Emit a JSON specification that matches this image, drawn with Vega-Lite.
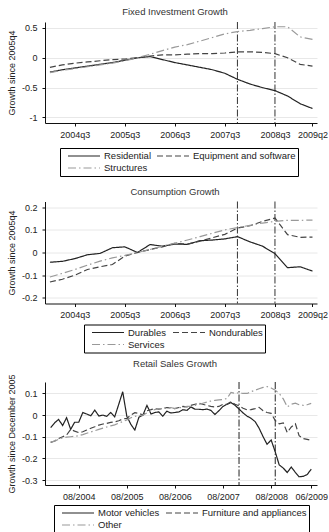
{
  "$schema": "https://vega.github.io/schema/vega-lite/v6.json",
  "background": "white",
  "autosize": {"type": "pad"},
  "padding": {"left": 7, "top": 7, "right": 0, "bottom": 0},
  "bounds": "flush",
  "spacing": 78.5,
  "config": {
    "font": "Liberation Sans",
    "view": {"stroke": null},
    "axis": {"labelFont": "Liberation Sans", "labelFontSize": 9, "labelColor": "#222", "titleFont": "Liberation Sans", "titleFontSize": 9, "titleFontWeight": "normal", "titleColor": "#222", "domainColor": "#111", "tickColor": "#111", "tickSize": 3, "gridColor": "#e8e8e8", "labelFlush": false, "labelOverlap": false, "labelBound": false},
    "axisX": {"grid": false, "labelPadding": 4},
    "axisY": {"grid": true, "labelPadding": 5, "titlePadding": 5},
    "title": {"font": "Liberation Sans", "fontSize": 9.5, "fontWeight": "normal", "color": "#333", "offset": 5, "dx": -6},
    "legend": {"orient": "none", "direction": "horizontal", "columns": 2, "strokeColor": "#000", "padding": 2, "fillColor": "white", "symbolType": "stroke", "symbolSize": 1024, "symbolStrokeWidth": 1.2, "symbolOffset": 5, "clipHeight": 12, "labelFont": "Liberation Sans", "labelFontSize": 9.5, "labelColor": "#222", "labelOffset": 3, "rowPadding": 0, "columnPadding": 0, "labelLimit": 300, "cornerRadius": 0}
  },
  "resolve": {"scale": {"x": "independent", "y": "independent", "color": "independent", "strokeDash": "independent"}, "legend": {"color": "independent", "strokeDash": "independent"}},
  "vconcat": [
    {
      "title": "Fixed Investment Growth",
      "width": 272, "height": 101,
      "layer": [
        {
          "data": {"values": [{"date": "2007/10/01"}, {"date": "2008/07/01"}]},
          "mark": {"type": "rule", "color": "#333", "strokeWidth": 1, "strokeDash": [7, 2, 1.5, 2]},
          "encoding": {"x": {"field": "date", "type": "temporal"}}
        },
        {
          "data": {"values": [
            {"date": "2004/01/01", "series": "Residential", "value": -0.24},
            {"date": "2004/04/01", "series": "Residential", "value": -0.20},
            {"date": "2004/07/01", "series": "Residential", "value": -0.17},
            {"date": "2004/10/01", "series": "Residential", "value": -0.14},
            {"date": "2005/01/01", "series": "Residential", "value": -0.11},
            {"date": "2005/04/01", "series": "Residential", "value": -0.08},
            {"date": "2005/07/01", "series": "Residential", "value": -0.04},
            {"date": "2005/10/01", "series": "Residential", "value": 0.00},
            {"date": "2006/01/01", "series": "Residential", "value": 0.02},
            {"date": "2006/04/01", "series": "Residential", "value": -0.03},
            {"date": "2006/07/01", "series": "Residential", "value": -0.08},
            {"date": "2006/10/01", "series": "Residential", "value": -0.12},
            {"date": "2007/01/01", "series": "Residential", "value": -0.16},
            {"date": "2007/04/01", "series": "Residential", "value": -0.20},
            {"date": "2007/07/01", "series": "Residential", "value": -0.26},
            {"date": "2007/10/01", "series": "Residential", "value": -0.36},
            {"date": "2008/01/01", "series": "Residential", "value": -0.44},
            {"date": "2008/04/01", "series": "Residential", "value": -0.50},
            {"date": "2008/07/01", "series": "Residential", "value": -0.55},
            {"date": "2008/10/01", "series": "Residential", "value": -0.64},
            {"date": "2009/01/01", "series": "Residential", "value": -0.77},
            {"date": "2009/04/01", "series": "Residential", "value": -0.85},
            {"date": "2004/01/01", "series": "Equipment and software", "value": -0.16},
            {"date": "2004/04/01", "series": "Equipment and software", "value": -0.12},
            {"date": "2004/07/01", "series": "Equipment and software", "value": -0.09},
            {"date": "2004/10/01", "series": "Equipment and software", "value": -0.07},
            {"date": "2005/01/01", "series": "Equipment and software", "value": -0.05},
            {"date": "2005/04/01", "series": "Equipment and software", "value": -0.03},
            {"date": "2005/07/01", "series": "Equipment and software", "value": -0.02},
            {"date": "2005/10/01", "series": "Equipment and software", "value": 0.00},
            {"date": "2006/01/01", "series": "Equipment and software", "value": 0.03},
            {"date": "2006/04/01", "series": "Equipment and software", "value": 0.05},
            {"date": "2006/07/01", "series": "Equipment and software", "value": 0.05},
            {"date": "2006/10/01", "series": "Equipment and software", "value": 0.06},
            {"date": "2007/01/01", "series": "Equipment and software", "value": 0.07},
            {"date": "2007/04/01", "series": "Equipment and software", "value": 0.07},
            {"date": "2007/07/01", "series": "Equipment and software", "value": 0.08},
            {"date": "2007/10/01", "series": "Equipment and software", "value": 0.10},
            {"date": "2008/01/01", "series": "Equipment and software", "value": 0.10},
            {"date": "2008/04/01", "series": "Equipment and software", "value": 0.09},
            {"date": "2008/07/01", "series": "Equipment and software", "value": 0.07},
            {"date": "2008/10/01", "series": "Equipment and software", "value": 0.00},
            {"date": "2009/01/01", "series": "Equipment and software", "value": -0.11},
            {"date": "2009/04/01", "series": "Equipment and software", "value": -0.14},
            {"date": "2004/01/01", "series": "Structures", "value": -0.25},
            {"date": "2004/04/01", "series": "Structures", "value": -0.21},
            {"date": "2004/07/01", "series": "Structures", "value": -0.18},
            {"date": "2004/10/01", "series": "Structures", "value": -0.15},
            {"date": "2005/01/01", "series": "Structures", "value": -0.12},
            {"date": "2005/04/01", "series": "Structures", "value": -0.09},
            {"date": "2005/07/01", "series": "Structures", "value": -0.05},
            {"date": "2005/10/01", "series": "Structures", "value": 0.00},
            {"date": "2006/01/01", "series": "Structures", "value": 0.06},
            {"date": "2006/04/01", "series": "Structures", "value": 0.12},
            {"date": "2006/07/01", "series": "Structures", "value": 0.18},
            {"date": "2006/10/01", "series": "Structures", "value": 0.22},
            {"date": "2007/01/01", "series": "Structures", "value": 0.28},
            {"date": "2007/04/01", "series": "Structures", "value": 0.34},
            {"date": "2007/07/01", "series": "Structures", "value": 0.40},
            {"date": "2007/10/01", "series": "Structures", "value": 0.44},
            {"date": "2008/01/01", "series": "Structures", "value": 0.46},
            {"date": "2008/04/01", "series": "Structures", "value": 0.49},
            {"date": "2008/07/01", "series": "Structures", "value": 0.52},
            {"date": "2008/10/01", "series": "Structures", "value": 0.52},
            {"date": "2009/01/01", "series": "Structures", "value": 0.35},
            {"date": "2009/04/01", "series": "Structures", "value": 0.31}
          ]},
          "mark": {"type": "line", "strokeWidth": 1.2},
          "encoding": {
            "x": {"field": "date", "type": "temporal", "title": null,
                  "scale": {"domain": [{"year": 2003, "month": 11, "date": 26}, {"year": 2009, "month": 5, "date": 4}], "nice": false},
                  "axis": {"format": "%Yq%q", "values": [{"year": 2004, "month": 7, "date": 1}, {"year": 2005, "month": 7, "date": 1}, {"year": 2006, "month": 7, "date": 1}, {"year": 2007, "month": 7, "date": 1}, {"year": 2008, "month": 7, "date": 1}, {"year": 2009, "month": 4, "date": 1}]}},
            "y": {"field": "value", "type": "quantitative", "title": "Growth since 2005q4",
                  "scale": {"domain": [-1.093, 0.6], "nice": false, "zero": false},
                  "axis": {"values": [-1, -0.5, 0, 0.5], "labelExpr": "replace(format(datum.value, '~g'), '\u2212', '-')"}},
            "color": {"field": "series", "type": "nominal",
                      "scale": {"domain": ["Residential", "Equipment and software", "Structures"], "range": ["#222222", "#444444", "#999999"]},
                      "legend": {"title": null, "legendX": 15, "legendY": 126}},
            "strokeDash": {"field": "series", "type": "nominal",
                      "scale": {"domain": ["Residential", "Equipment and software", "Structures"], "range": [[1, 0], [6, 3], [8, 3, 1.5, 3]]},
                      "legend": {"title": null, "legendX": 15, "legendY": 126}}
          }
        }
      ]
    },
    {
      "title": "Consumption Growth",
      "width": 272, "height": 102,
      "layer": [
        {
          "data": {"values": [{"date": "2007/10/01"}, {"date": "2008/07/01"}]},
          "mark": {"type": "rule", "color": "#333", "strokeWidth": 1, "strokeDash": [7, 2, 1.5, 2]},
          "encoding": {"x": {"field": "date", "type": "temporal"}}
        },
        {
          "data": {"values": [
            {"date": "2004/01/01", "series": "Durables", "value": -0.043},
            {"date": "2004/04/01", "series": "Durables", "value": -0.039},
            {"date": "2004/07/01", "series": "Durables", "value": -0.027},
            {"date": "2004/10/01", "series": "Durables", "value": -0.010},
            {"date": "2005/01/01", "series": "Durables", "value": -0.004},
            {"date": "2005/04/01", "series": "Durables", "value": 0.021},
            {"date": "2005/07/01", "series": "Durables", "value": 0.025},
            {"date": "2005/10/01", "series": "Durables", "value": 0.000},
            {"date": "2006/01/01", "series": "Durables", "value": 0.035},
            {"date": "2006/04/01", "series": "Durables", "value": 0.028},
            {"date": "2006/07/01", "series": "Durables", "value": 0.037},
            {"date": "2006/10/01", "series": "Durables", "value": 0.036},
            {"date": "2007/01/01", "series": "Durables", "value": 0.052},
            {"date": "2007/04/01", "series": "Durables", "value": 0.055},
            {"date": "2007/07/01", "series": "Durables", "value": 0.060},
            {"date": "2007/10/01", "series": "Durables", "value": 0.070},
            {"date": "2008/01/01", "series": "Durables", "value": 0.047},
            {"date": "2008/04/01", "series": "Durables", "value": 0.028},
            {"date": "2008/07/01", "series": "Durables", "value": -0.005},
            {"date": "2008/10/01", "series": "Durables", "value": -0.067},
            {"date": "2009/01/01", "series": "Durables", "value": -0.063},
            {"date": "2009/04/01", "series": "Durables", "value": -0.082},
            {"date": "2004/01/01", "series": "Nondurables", "value": -0.130},
            {"date": "2004/04/01", "series": "Nondurables", "value": -0.118},
            {"date": "2004/07/01", "series": "Nondurables", "value": -0.100},
            {"date": "2004/10/01", "series": "Nondurables", "value": -0.075},
            {"date": "2005/01/01", "series": "Nondurables", "value": -0.063},
            {"date": "2005/04/01", "series": "Nondurables", "value": -0.053},
            {"date": "2005/07/01", "series": "Nondurables", "value": -0.016},
            {"date": "2005/10/01", "series": "Nondurables", "value": 0.000},
            {"date": "2006/01/01", "series": "Nondurables", "value": 0.013},
            {"date": "2006/04/01", "series": "Nondurables", "value": 0.025},
            {"date": "2006/07/01", "series": "Nondurables", "value": 0.040},
            {"date": "2006/10/01", "series": "Nondurables", "value": 0.037},
            {"date": "2007/01/01", "series": "Nondurables", "value": 0.050},
            {"date": "2007/04/01", "series": "Nondurables", "value": 0.065},
            {"date": "2007/07/01", "series": "Nondurables", "value": 0.080},
            {"date": "2007/10/01", "series": "Nondurables", "value": 0.108},
            {"date": "2008/01/01", "series": "Nondurables", "value": 0.118},
            {"date": "2008/04/01", "series": "Nondurables", "value": 0.137},
            {"date": "2008/07/01", "series": "Nondurables", "value": 0.152},
            {"date": "2008/10/01", "series": "Nondurables", "value": 0.079},
            {"date": "2009/01/01", "series": "Nondurables", "value": 0.067},
            {"date": "2009/04/01", "series": "Nondurables", "value": 0.068},
            {"date": "2004/01/01", "series": "Services", "value": -0.108},
            {"date": "2004/04/01", "series": "Services", "value": -0.092},
            {"date": "2004/07/01", "series": "Services", "value": -0.075},
            {"date": "2004/10/01", "series": "Services", "value": -0.056},
            {"date": "2005/01/01", "series": "Services", "value": -0.038},
            {"date": "2005/04/01", "series": "Services", "value": -0.024},
            {"date": "2005/07/01", "series": "Services", "value": -0.013},
            {"date": "2005/10/01", "series": "Services", "value": 0.000},
            {"date": "2006/01/01", "series": "Services", "value": 0.013},
            {"date": "2006/04/01", "series": "Services", "value": 0.028},
            {"date": "2006/07/01", "series": "Services", "value": 0.041},
            {"date": "2006/10/01", "series": "Services", "value": 0.055},
            {"date": "2007/01/01", "series": "Services", "value": 0.070},
            {"date": "2007/04/01", "series": "Services", "value": 0.085},
            {"date": "2007/07/01", "series": "Services", "value": 0.100},
            {"date": "2007/10/01", "series": "Services", "value": 0.110},
            {"date": "2008/01/01", "series": "Services", "value": 0.120},
            {"date": "2008/04/01", "series": "Services", "value": 0.130},
            {"date": "2008/07/01", "series": "Services", "value": 0.137},
            {"date": "2008/10/01", "series": "Services", "value": 0.142},
            {"date": "2009/01/01", "series": "Services", "value": 0.142},
            {"date": "2009/04/01", "series": "Services", "value": 0.143}
          ]},
          "mark": {"type": "line", "strokeWidth": 1.2},
          "encoding": {
            "x": {"field": "date", "type": "temporal", "title": null,
                  "scale": {"domain": [{"year": 2003, "month": 11, "date": 26}, {"year": 2009, "month": 5, "date": 4}], "nice": false},
                  "axis": {"format": "%Yq%q", "values": [{"year": 2004, "month": 7, "date": 1}, {"year": 2005, "month": 7, "date": 1}, {"year": 2006, "month": 7, "date": 1}, {"year": 2007, "month": 7, "date": 1}, {"year": 2008, "month": 7, "date": 1}, {"year": 2009, "month": 4, "date": 1}]}},
            "y": {"field": "value", "type": "quantitative", "title": "Growth since 2005q4",
                  "scale": {"domain": [-0.225, 0.225], "nice": false, "zero": false},
                  "axis": {"values": [-0.2, -0.1, 0, 0.1, 0.2], "labelExpr": "replace(format(datum.value, '~g'), '\u2212', '-')"}},
            "color": {"field": "series", "type": "nominal",
                      "scale": {"domain": ["Durables", "Nondurables", "Services"], "range": ["#222222", "#444444", "#999999"]},
                      "legend": {"title": null, "legendX": 39, "legendY": 123}},
            "strokeDash": {"field": "series", "type": "nominal",
                      "scale": {"domain": ["Durables", "Nondurables", "Services"], "range": [[1, 0], [6, 3], [8, 3, 1.5, 3]]},
                      "legend": {"title": null, "legendX": 39, "legendY": 123}}
          }
        }
      ]
    },
    {
      "title": "Retail Sales Growth",
      "width": 272, "height": 103,
      "layer": [
        {
          "data": {"values": [{"date": "2007/12/01"}, {"date": "2008/09/01"}]},
          "mark": {"type": "rule", "color": "#222", "strokeWidth": 1, "strokeDash": [7, 2, 1.5, 2]},
          "encoding": {"x": {"field": "date", "type": "temporal"}}
        },
        {
          "data": {"values": [
            {"date": "2004/01/01", "series": "Motor vehicles", "value": -0.058},
            {"date": "2004/02/01", "series": "Motor vehicles", "value": -0.035},
            {"date": "2004/03/01", "series": "Motor vehicles", "value": -0.020},
            {"date": "2004/04/01", "series": "Motor vehicles", "value": -0.048},
            {"date": "2004/05/01", "series": "Motor vehicles", "value": -0.012},
            {"date": "2004/06/01", "series": "Motor vehicles", "value": -0.066},
            {"date": "2004/07/01", "series": "Motor vehicles", "value": -0.033},
            {"date": "2004/08/01", "series": "Motor vehicles", "value": -0.033},
            {"date": "2004/09/01", "series": "Motor vehicles", "value": 0.012},
            {"date": "2004/10/01", "series": "Motor vehicles", "value": 0.005},
            {"date": "2004/11/01", "series": "Motor vehicles", "value": -0.003},
            {"date": "2004/12/01", "series": "Motor vehicles", "value": 0.023},
            {"date": "2005/01/01", "series": "Motor vehicles", "value": -0.004},
            {"date": "2005/02/01", "series": "Motor vehicles", "value": 0.000},
            {"date": "2005/03/01", "series": "Motor vehicles", "value": -0.006},
            {"date": "2005/04/01", "series": "Motor vehicles", "value": 0.012},
            {"date": "2005/05/01", "series": "Motor vehicles", "value": -0.008},
            {"date": "2005/06/01", "series": "Motor vehicles", "value": 0.050},
            {"date": "2005/07/01", "series": "Motor vehicles", "value": 0.108},
            {"date": "2005/08/01", "series": "Motor vehicles", "value": -0.005},
            {"date": "2005/09/01", "series": "Motor vehicles", "value": -0.043},
            {"date": "2005/10/01", "series": "Motor vehicles", "value": -0.069},
            {"date": "2005/11/01", "series": "Motor vehicles", "value": -0.010},
            {"date": "2005/12/01", "series": "Motor vehicles", "value": 0.000},
            {"date": "2006/01/01", "series": "Motor vehicles", "value": 0.045},
            {"date": "2006/02/01", "series": "Motor vehicles", "value": 0.005},
            {"date": "2006/03/01", "series": "Motor vehicles", "value": 0.012},
            {"date": "2006/04/01", "series": "Motor vehicles", "value": 0.015},
            {"date": "2006/05/01", "series": "Motor vehicles", "value": -0.005},
            {"date": "2006/06/01", "series": "Motor vehicles", "value": 0.018},
            {"date": "2006/07/01", "series": "Motor vehicles", "value": 0.010},
            {"date": "2006/08/01", "series": "Motor vehicles", "value": 0.012},
            {"date": "2006/09/01", "series": "Motor vehicles", "value": 0.015},
            {"date": "2006/10/01", "series": "Motor vehicles", "value": 0.025},
            {"date": "2006/11/01", "series": "Motor vehicles", "value": 0.022},
            {"date": "2006/12/01", "series": "Motor vehicles", "value": 0.038},
            {"date": "2007/01/01", "series": "Motor vehicles", "value": 0.027},
            {"date": "2007/02/01", "series": "Motor vehicles", "value": 0.027},
            {"date": "2007/03/01", "series": "Motor vehicles", "value": 0.025},
            {"date": "2007/04/01", "series": "Motor vehicles", "value": 0.028},
            {"date": "2007/05/01", "series": "Motor vehicles", "value": 0.022},
            {"date": "2007/06/01", "series": "Motor vehicles", "value": 0.003},
            {"date": "2007/07/01", "series": "Motor vehicles", "value": 0.020},
            {"date": "2007/08/01", "series": "Motor vehicles", "value": 0.040},
            {"date": "2007/09/01", "series": "Motor vehicles", "value": 0.050},
            {"date": "2007/10/01", "series": "Motor vehicles", "value": 0.058},
            {"date": "2007/11/01", "series": "Motor vehicles", "value": 0.045},
            {"date": "2007/12/01", "series": "Motor vehicles", "value": 0.028},
            {"date": "2008/01/01", "series": "Motor vehicles", "value": 0.010},
            {"date": "2008/02/01", "series": "Motor vehicles", "value": -0.005},
            {"date": "2008/03/01", "series": "Motor vehicles", "value": -0.015},
            {"date": "2008/04/01", "series": "Motor vehicles", "value": -0.030},
            {"date": "2008/05/01", "series": "Motor vehicles", "value": -0.060},
            {"date": "2008/06/01", "series": "Motor vehicles", "value": -0.100},
            {"date": "2008/07/01", "series": "Motor vehicles", "value": -0.135},
            {"date": "2008/08/01", "series": "Motor vehicles", "value": -0.115},
            {"date": "2008/09/01", "series": "Motor vehicles", "value": -0.170},
            {"date": "2008/10/01", "series": "Motor vehicles", "value": -0.230},
            {"date": "2008/11/01", "series": "Motor vehicles", "value": -0.245},
            {"date": "2008/12/01", "series": "Motor vehicles", "value": -0.265},
            {"date": "2009/01/01", "series": "Motor vehicles", "value": -0.240},
            {"date": "2009/02/01", "series": "Motor vehicles", "value": -0.265},
            {"date": "2009/03/01", "series": "Motor vehicles", "value": -0.285},
            {"date": "2009/04/01", "series": "Motor vehicles", "value": -0.283},
            {"date": "2009/05/01", "series": "Motor vehicles", "value": -0.275},
            {"date": "2009/06/01", "series": "Motor vehicles", "value": -0.250},
            {"date": "2004/01/01", "series": "Furniture and appliances", "value": -0.126},
            {"date": "2004/02/01", "series": "Furniture and appliances", "value": -0.120},
            {"date": "2004/03/01", "series": "Furniture and appliances", "value": -0.108},
            {"date": "2004/04/01", "series": "Furniture and appliances", "value": -0.100},
            {"date": "2004/05/01", "series": "Furniture and appliances", "value": -0.092},
            {"date": "2004/06/01", "series": "Furniture and appliances", "value": -0.066},
            {"date": "2004/07/01", "series": "Furniture and appliances", "value": -0.074},
            {"date": "2004/08/01", "series": "Furniture and appliances", "value": -0.081},
            {"date": "2004/09/01", "series": "Furniture and appliances", "value": -0.077},
            {"date": "2004/10/01", "series": "Furniture and appliances", "value": -0.069},
            {"date": "2004/11/01", "series": "Furniture and appliances", "value": -0.061},
            {"date": "2004/12/01", "series": "Furniture and appliances", "value": -0.054},
            {"date": "2005/01/01", "series": "Furniture and appliances", "value": -0.046},
            {"date": "2005/02/01", "series": "Furniture and appliances", "value": -0.041},
            {"date": "2005/03/01", "series": "Furniture and appliances", "value": -0.038},
            {"date": "2005/04/01", "series": "Furniture and appliances", "value": -0.034},
            {"date": "2005/05/01", "series": "Furniture and appliances", "value": -0.031},
            {"date": "2005/06/01", "series": "Furniture and appliances", "value": -0.026},
            {"date": "2005/07/01", "series": "Furniture and appliances", "value": -0.018},
            {"date": "2005/08/01", "series": "Furniture and appliances", "value": -0.015},
            {"date": "2005/09/01", "series": "Furniture and appliances", "value": 0.000},
            {"date": "2005/10/01", "series": "Furniture and appliances", "value": 0.011},
            {"date": "2005/11/01", "series": "Furniture and appliances", "value": 0.008},
            {"date": "2005/12/01", "series": "Furniture and appliances", "value": 0.000},
            {"date": "2006/01/01", "series": "Furniture and appliances", "value": 0.020},
            {"date": "2006/02/01", "series": "Furniture and appliances", "value": 0.025},
            {"date": "2006/03/01", "series": "Furniture and appliances", "value": 0.030},
            {"date": "2006/04/01", "series": "Furniture and appliances", "value": 0.028},
            {"date": "2006/05/01", "series": "Furniture and appliances", "value": 0.030},
            {"date": "2006/06/01", "series": "Furniture and appliances", "value": 0.035},
            {"date": "2006/07/01", "series": "Furniture and appliances", "value": 0.033},
            {"date": "2006/08/01", "series": "Furniture and appliances", "value": 0.030},
            {"date": "2006/09/01", "series": "Furniture and appliances", "value": 0.035},
            {"date": "2006/10/01", "series": "Furniture and appliances", "value": 0.040},
            {"date": "2006/11/01", "series": "Furniture and appliances", "value": 0.038},
            {"date": "2006/12/01", "series": "Furniture and appliances", "value": 0.045},
            {"date": "2007/01/01", "series": "Furniture and appliances", "value": 0.050},
            {"date": "2007/02/01", "series": "Furniture and appliances", "value": 0.055},
            {"date": "2007/03/01", "series": "Furniture and appliances", "value": 0.050},
            {"date": "2007/04/01", "series": "Furniture and appliances", "value": 0.045},
            {"date": "2007/05/01", "series": "Furniture and appliances", "value": 0.040},
            {"date": "2007/06/01", "series": "Furniture and appliances", "value": 0.038},
            {"date": "2007/07/01", "series": "Furniture and appliances", "value": 0.040},
            {"date": "2007/08/01", "series": "Furniture and appliances", "value": 0.050},
            {"date": "2007/09/01", "series": "Furniture and appliances", "value": 0.050},
            {"date": "2007/10/01", "series": "Furniture and appliances", "value": 0.062},
            {"date": "2007/11/01", "series": "Furniture and appliances", "value": 0.050},
            {"date": "2007/12/01", "series": "Furniture and appliances", "value": 0.043},
            {"date": "2008/01/01", "series": "Furniture and appliances", "value": 0.032},
            {"date": "2008/02/01", "series": "Furniture and appliances", "value": 0.024},
            {"date": "2008/03/01", "series": "Furniture and appliances", "value": 0.025},
            {"date": "2008/04/01", "series": "Furniture and appliances", "value": 0.030},
            {"date": "2008/05/01", "series": "Furniture and appliances", "value": 0.036},
            {"date": "2008/06/01", "series": "Furniture and appliances", "value": 0.020},
            {"date": "2008/07/01", "series": "Furniture and appliances", "value": 0.012},
            {"date": "2008/08/01", "series": "Furniture and appliances", "value": 0.008},
            {"date": "2008/09/01", "series": "Furniture and appliances", "value": -0.025},
            {"date": "2008/10/01", "series": "Furniture and appliances", "value": -0.040},
            {"date": "2008/11/01", "series": "Furniture and appliances", "value": -0.036},
            {"date": "2008/12/01", "series": "Furniture and appliances", "value": -0.080},
            {"date": "2009/01/01", "series": "Furniture and appliances", "value": -0.055},
            {"date": "2009/02/01", "series": "Furniture and appliances", "value": -0.040},
            {"date": "2009/03/01", "series": "Furniture and appliances", "value": -0.095},
            {"date": "2009/04/01", "series": "Furniture and appliances", "value": -0.108},
            {"date": "2009/05/01", "series": "Furniture and appliances", "value": -0.112},
            {"date": "2009/06/01", "series": "Furniture and appliances", "value": -0.117},
            {"date": "2004/01/01", "series": "Other", "value": -0.125},
            {"date": "2004/02/01", "series": "Other", "value": -0.120},
            {"date": "2004/03/01", "series": "Other", "value": -0.112},
            {"date": "2004/04/01", "series": "Other", "value": -0.105},
            {"date": "2004/05/01", "series": "Other", "value": -0.102},
            {"date": "2004/06/01", "series": "Other", "value": -0.100},
            {"date": "2004/07/01", "series": "Other", "value": -0.098},
            {"date": "2004/08/01", "series": "Other", "value": -0.095},
            {"date": "2004/09/01", "series": "Other", "value": -0.090},
            {"date": "2004/10/01", "series": "Other", "value": -0.084},
            {"date": "2004/11/01", "series": "Other", "value": -0.078},
            {"date": "2004/12/01", "series": "Other", "value": -0.072},
            {"date": "2005/01/01", "series": "Other", "value": -0.066},
            {"date": "2005/02/01", "series": "Other", "value": -0.060},
            {"date": "2005/03/01", "series": "Other", "value": -0.055},
            {"date": "2005/04/01", "series": "Other", "value": -0.050},
            {"date": "2005/05/01", "series": "Other", "value": -0.045},
            {"date": "2005/06/01", "series": "Other", "value": -0.037},
            {"date": "2005/07/01", "series": "Other", "value": -0.030},
            {"date": "2005/08/01", "series": "Other", "value": -0.022},
            {"date": "2005/09/01", "series": "Other", "value": -0.012},
            {"date": "2005/10/01", "series": "Other", "value": -0.006},
            {"date": "2005/11/01", "series": "Other", "value": -0.002},
            {"date": "2005/12/01", "series": "Other", "value": 0.000},
            {"date": "2006/01/01", "series": "Other", "value": 0.010},
            {"date": "2006/02/01", "series": "Other", "value": 0.020},
            {"date": "2006/03/01", "series": "Other", "value": 0.025},
            {"date": "2006/04/01", "series": "Other", "value": 0.030},
            {"date": "2006/05/01", "series": "Other", "value": 0.030},
            {"date": "2006/06/01", "series": "Other", "value": 0.035},
            {"date": "2006/07/01", "series": "Other", "value": 0.035},
            {"date": "2006/08/01", "series": "Other", "value": 0.030},
            {"date": "2006/09/01", "series": "Other", "value": 0.035},
            {"date": "2006/10/01", "series": "Other", "value": 0.035},
            {"date": "2006/11/01", "series": "Other", "value": 0.040},
            {"date": "2006/12/01", "series": "Other", "value": 0.040},
            {"date": "2007/01/01", "series": "Other", "value": 0.045},
            {"date": "2007/02/01", "series": "Other", "value": 0.050},
            {"date": "2007/03/01", "series": "Other", "value": 0.055},
            {"date": "2007/04/01", "series": "Other", "value": 0.060},
            {"date": "2007/05/01", "series": "Other", "value": 0.065},
            {"date": "2007/06/01", "series": "Other", "value": 0.068},
            {"date": "2007/07/01", "series": "Other", "value": 0.070},
            {"date": "2007/08/01", "series": "Other", "value": 0.072},
            {"date": "2007/09/01", "series": "Other", "value": 0.077},
            {"date": "2007/10/01", "series": "Other", "value": 0.105},
            {"date": "2007/11/01", "series": "Other", "value": 0.100},
            {"date": "2007/12/01", "series": "Other", "value": 0.104},
            {"date": "2008/01/01", "series": "Other", "value": 0.100},
            {"date": "2008/02/01", "series": "Other", "value": 0.100},
            {"date": "2008/03/01", "series": "Other", "value": 0.108},
            {"date": "2008/04/01", "series": "Other", "value": 0.115},
            {"date": "2008/05/01", "series": "Other", "value": 0.122},
            {"date": "2008/06/01", "series": "Other", "value": 0.128},
            {"date": "2008/07/01", "series": "Other", "value": 0.132},
            {"date": "2008/08/01", "series": "Other", "value": 0.125},
            {"date": "2008/09/01", "series": "Other", "value": 0.115},
            {"date": "2008/10/01", "series": "Other", "value": 0.100},
            {"date": "2008/11/01", "series": "Other", "value": 0.075},
            {"date": "2008/12/01", "series": "Other", "value": 0.038},
            {"date": "2009/01/01", "series": "Other", "value": 0.050},
            {"date": "2009/02/01", "series": "Other", "value": 0.055},
            {"date": "2009/03/01", "series": "Other", "value": 0.048},
            {"date": "2009/04/01", "series": "Other", "value": 0.045},
            {"date": "2009/05/01", "series": "Other", "value": 0.048},
            {"date": "2009/06/01", "series": "Other", "value": 0.054}
          ]},
          "mark": {"type": "line", "strokeWidth": 1.2},
          "encoding": {
            "x": {"field": "date", "type": "temporal", "title": null,
                  "scale": {"domain": [{"year": 2003, "month": 11, "date": 19}, {"year": 2009, "month": 7, "date": 15}], "nice": false},
                  "axis": {"format": "%m/%Y", "values": [{"year": 2004, "month": 8, "date": 1}, {"year": 2005, "month": 8, "date": 1}, {"year": 2006, "month": 8, "date": 1}, {"year": 2007, "month": 8, "date": 1}, {"year": 2008, "month": 8, "date": 1}, {"year": 2009, "month": 6, "date": 1}]}},
            "y": {"field": "value", "type": "quantitative", "title": "Growth since December 2005",
                  "scale": {"domain": [-0.323, 0.153], "nice": false, "zero": false},
                  "axis": {"values": [-0.3, -0.2, -0.1, 0, 0.1], "labelExpr": "replace(format(datum.value, '~g'), '\u2212', '-')"}},
            "color": {"field": "series", "type": "nominal",
                      "scale": {"domain": ["Motor vehicles", "Furniture and appliances", "Other"], "range": ["#222222", "#444444", "#999999"]},
                      "legend": {"title": null, "legendX": 9, "legendY": 123}},
            "strokeDash": {"field": "series", "type": "nominal",
                      "scale": {"domain": ["Motor vehicles", "Furniture and appliances", "Other"], "range": [[1, 0], [6, 3], [8, 3, 1.5, 3]]},
                      "legend": {"title": null, "legendX": 9, "legendY": 123}}
          }
        }
      ]
    }
  ]
}
